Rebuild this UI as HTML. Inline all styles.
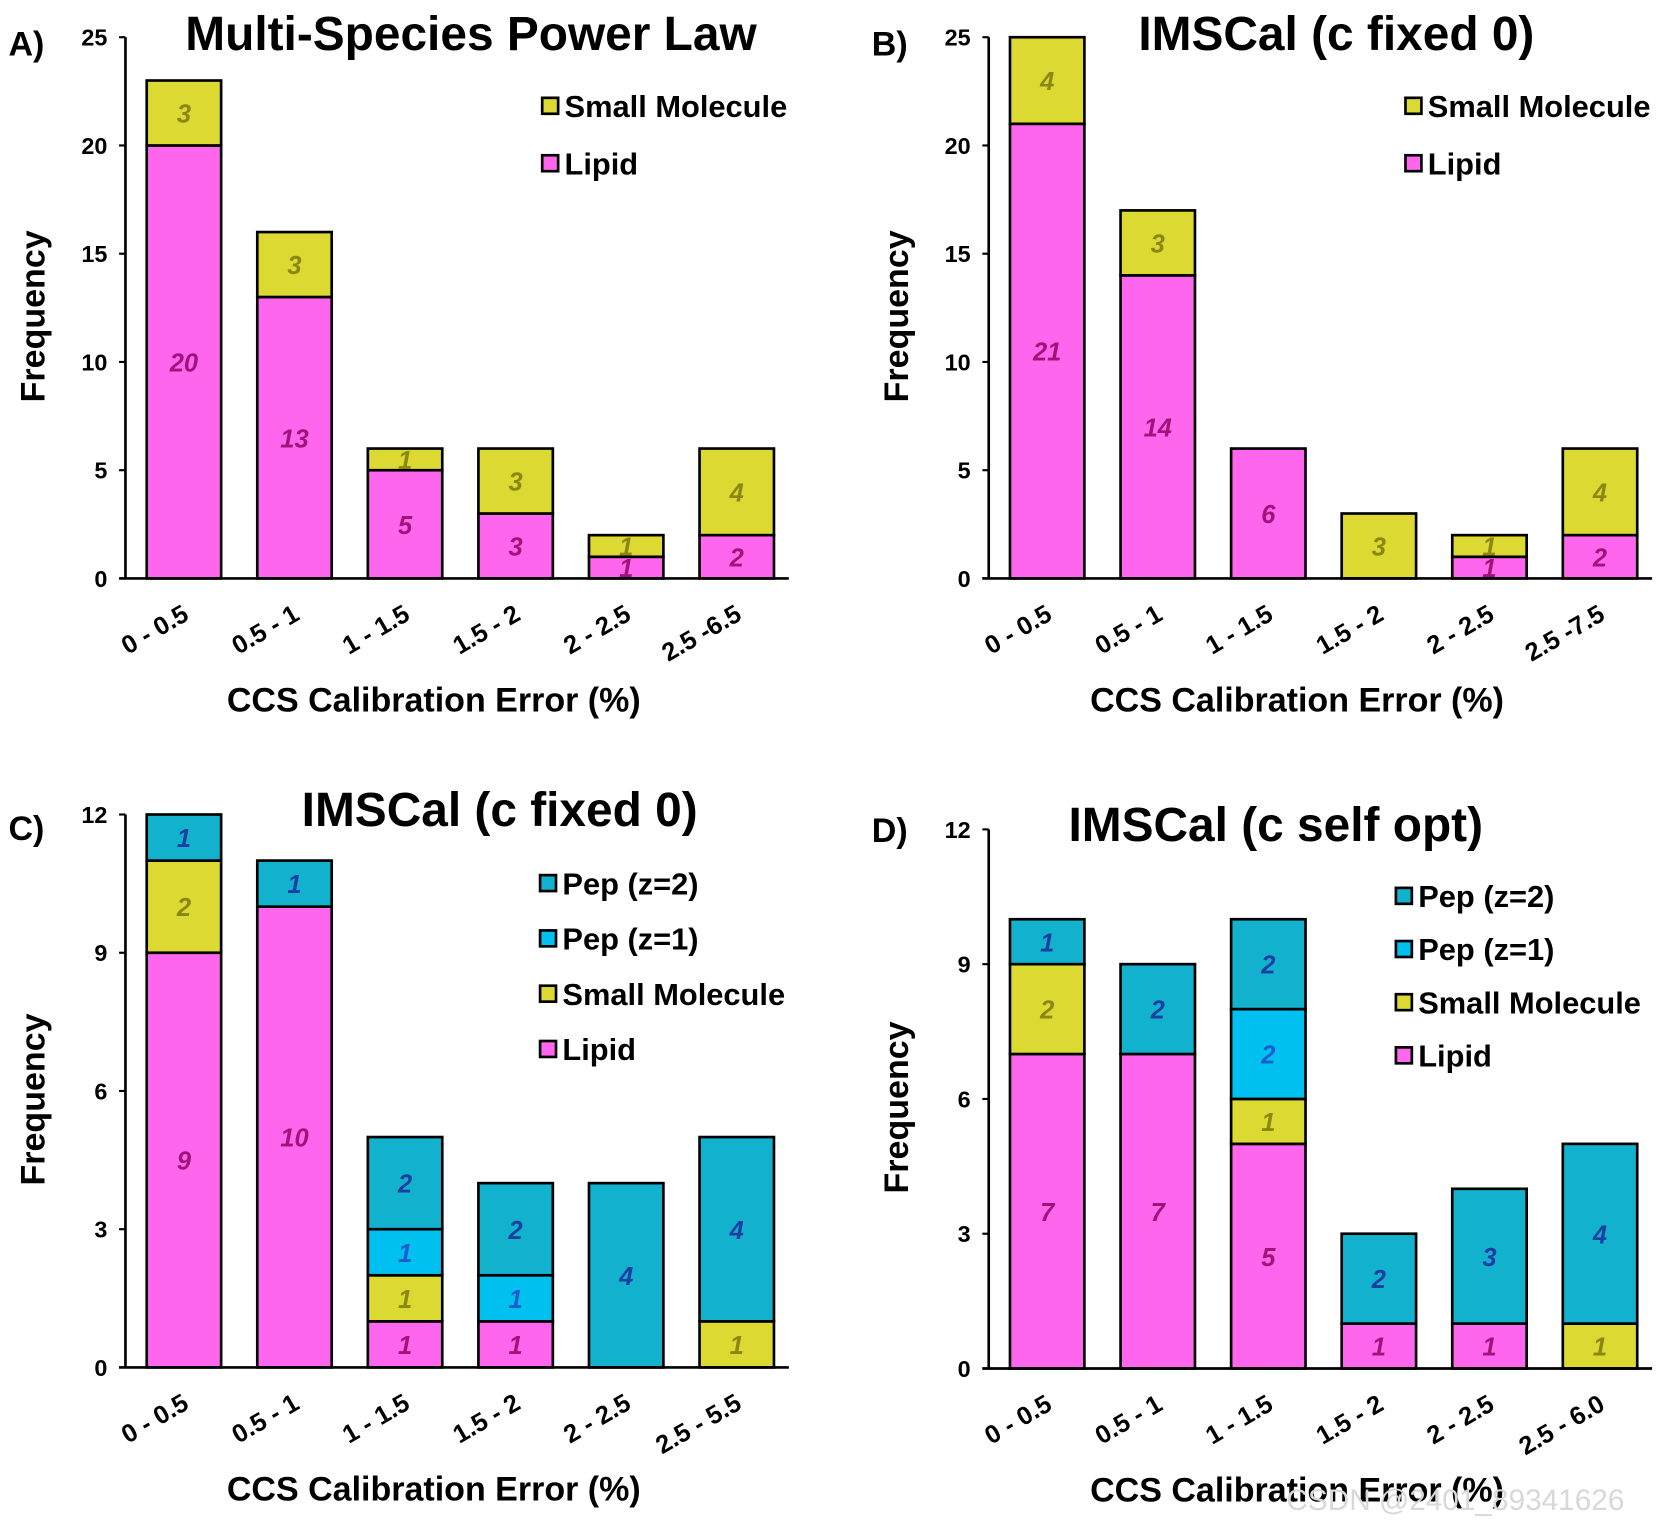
<!DOCTYPE html>
<html><head><meta charset="utf-8"><style>
html,body{margin:0;padding:0;background:#fff;}
svg{display:block;font-family:"Liberation Sans",Arial,sans-serif;font-weight:bold;}
</style></head><body>
<svg id="fig" width="1667" height="1528" viewBox="0 0 1568 1437" preserveAspectRatio="none" xmlns="http://www.w3.org/2000/svg"></svg>
<script>
const categoriesA = ["0 - 0.5","0.5 - 1","1 - 1.5","1.5 - 2","2 - 2.5","2.5 -6.5"];
const categoriesB = ["0 - 0.5","0.5 - 1","1 - 1.5","1.5 - 2","2 - 2.5","2.5 -7.5"];
const categoriesC = ["0 - 0.5","0.5 - 1","1 - 1.5","1.5 - 2","2 - 2.5","2.5 - 5.5"];
const categoriesD = ["0 - 0.5","0.5 - 1","1 - 1.5","1.5 - 2","2 - 2.5","2.5 - 6.0"];
const lipidA = [20,13,5,3,1,2];
const smallA = [3,3,1,3,1,4];
const lipidB = [21,14,6,0,1,2];
const smallB = [4,3,0,3,1,4];
const lipidC = [9,10,1,1,0,0];
const smallC = [2,0,1,0,0,1];
const pep1C = [0,0,1,1,0,0];
const pep2C = [1,1,2,2,4,4];
const lipidD = [7,7,5,1,1,0];
const smallD = [2,0,1,0,0,1];
const pep1D = [0,0,2,0,0,0];
const pep2D = [1,2,2,2,3,4];
const ticksAB = [0,5,10,15,20,25];
const ticksCD = [0,3,6,9,12];

const NS="http://www.w3.org/2000/svg";
const svg=document.getElementById('fig');
function mk(tag,attrs,parent){const e=document.createElementNS(NS,tag);for(const k in attrs)e.setAttribute(k,attrs[k]);(parent||svg).appendChild(e);return e;}
const COL={lipid:"#ff66ee",small:"#dcd932",pep1:"#00c0ef",pep2:"#12b2cf"};
const TXT={lipid:"#a0147a",small:"#8a8712",pep1:"#1a5fd0",pep2:"#1a3fa0"};

function panel(p){
  const g=mk('g',{});
  
  
  const x0=p.ax, y0=p.y0, yt=p.yt, xe=p.ax+624;
  const ys=v=>y0-(v/p.max)*(y0-yt);
  const xc=i=>x0+55+i*104;
  p.series.forEach(s=>{
    p.cats.forEach((c,i)=>{
      const v=s.vals[i]; if(!v) return;
      let base=0; for(const t of p.series){ if(t===s) break; base+=t.vals[i]; }
      const r=mk('rect',{x:xc(i)-35,y:ys(base+v),width:70,height:ys(base)-ys(base+v),fill:COL[s.key],stroke:"#000","stroke-width":2.5},g);
      
      
      const t=mk('text',{x:xc(i),y:(ys(base)+ys(base+v))/2+9,"text-anchor":"middle","font-size":24,"font-style":"italic",fill:TXT[s.key]},g);
      t.textContent=v;
      
      
    });
  });
  const ya=mk('line',{x1:x0,y1:yt,x2:x0,y2:y0,stroke:"#000","stroke-width":2.5},g);
  
  
  const xa=mk('line',{x1:x0-6,y1:y0,x2:xe,y2:y0,stroke:"#000","stroke-width":2.5},g);
  
  
  p.ticks.forEach(v=>{
    mk('line',{x1:x0-6,y1:ys(v),x2:x0,y2:ys(v),stroke:"#000","stroke-width":2},g);
    const t=mk('text',{x:x0-17,y:ys(v)+8,"text-anchor":"end","font-size":22},g);
    t.textContent=v;
    
    
  });
  p.cats.forEach((c,i)=>{
    const t=mk('text',{x:0,y:0,"text-anchor":"end","font-size":24,transform:`translate(${xc(i)+6},${y0+38}) rotate(-30)`},g);
    t.textContent=c;
    
    
  });
  const yt2=mk('text',{x:0,y:0,"text-anchor":"middle","font-size":32,transform:`translate(${x0-76},${(y0+yt)/2+8}) rotate(-90)`},g);
  yt2.textContent="Frequency";
  
  
  const xt=mk('text',{x:x0+290,y:y0+125,"text-anchor":"middle","font-size":32},g);
  xt.textContent="CCS Calibration Error (%)";
  
  
  const ti=mk('text',{x:p.tx,y:p.ty,"text-anchor":"middle","font-size":45},g);
  ti.textContent=p.title;
  
  
  const lb=mk('text',{x:x0-110,y:p.ly,"font-size":32},g);
  lb.textContent=p.id+")";
  
  
  const leg=[...p.series].reverse();
  leg.forEach((s,k)=>{
    const y=p.legY+k*p.legStep;
    const r=mk('rect',{x:p.legX,y:y-8,width:15,height:15,fill:COL[s.key],stroke:"#000","stroke-width":2.5},g);
    
    
    const t=mk('text',{x:p.legX+21,y:y+10,"font-size":29},g);
    t.textContent=s.name;
    
    
  });
}
panel({id:"A",ax:118,y0:544,yt:35,max:25,ticks:ticksAB,cats:categoriesA,title:"Multi-Species Power Law",tx:443,ty:47,ly:52,legX:510,legY:100,legStep:54,
  series:[{key:"lipid",name:"Lipid",vals:lipidA},{key:"small",name:"Small Molecule",vals:smallA}]});
panel({id:"B",ax:930,y0:544,yt:35,max:25,ticks:ticksAB,cats:categoriesB,title:"IMSCal (c fixed 0)",tx:1257,ty:47,ly:52,legX:1322,legY:100,legStep:54,
  series:[{key:"lipid",name:"Lipid",vals:lipidB},{key:"small",name:"Small Molecule",vals:smallB}]});
panel({id:"C",ax:118,y0:1286,yt:766,max:12,ticks:ticksCD,cats:categoriesC,title:"IMSCal (c fixed 0)",tx:470,ty:777,ly:790,legX:508,legY:831,legStep:52,
  series:[{key:"lipid",name:"Lipid",vals:lipidC},{key:"small",name:"Small Molecule",vals:smallC},{key:"pep1",name:"Pep (z=1)",vals:pep1C},{key:"pep2",name:"Pep (z=2)",vals:pep2C}]});
panel({id:"D",ax:930,y0:1287,yt:780,max:12,ticks:ticksCD,cats:categoriesD,title:"IMSCal (c self opt)",tx:1200,ty:791,ly:792,legX:1313,legY:843,legStep:50,
  series:[{key:"lipid",name:"Lipid",vals:lipidD},{key:"small",name:"Small Molecule",vals:smallD},{key:"pep1",name:"Pep (z=1)",vals:pep1D},{key:"pep2",name:"Pep (z=2)",vals:pep2D}]});
const wm=mk('text',{x:1210,y:1420,"font-size":28,fill:"#d8d8d8","font-weight":"normal"});
wm.textContent="CSDN @2401_89341626";


</script>
</body></html>
